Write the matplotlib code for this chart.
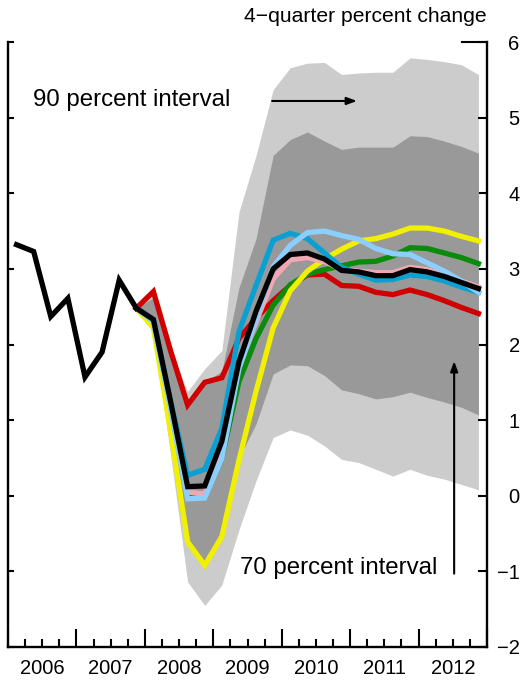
import matplotlib
matplotlib.use("Agg")
import matplotlib.pyplot as plt
import numpy as np

plt.rcParams['font.family'] = ['Liberation Sans', 'DejaVu Sans']

# ---------------- data ----------------
hist_quarters = ["2006Q1", "2006Q2", "2006Q3", "2006Q4",
                 "2007Q1", "2007Q2", "2007Q3", "2007Q4"]
hist_values = [3.32, 3.23, 2.37, 2.61, 1.57, 1.90, 2.85, 2.48]

proj_quarters = ["2007Q4",
                 "2008Q1", "2008Q2", "2008Q3", "2008Q4",
                 "2009Q1", "2009Q2", "2009Q3", "2009Q4",
                 "2010Q1", "2010Q2", "2010Q3", "2010Q4",
                 "2011Q1", "2011Q2", "2011Q3", "2011Q4",
                 "2012Q1", "2012Q2", "2012Q3", "2012Q4"]

band90_upper = [2.48, 2.72, 1.95, 1.38, 1.68, 1.92, 3.75, 4.50, 5.37,
                5.66, 5.72, 5.73, 5.57, 5.59, 5.60, 5.60, 5.79, 5.77, 5.74, 5.70, 5.57]
band90_lower = [2.48, 2.15, 0.55, -1.14, -1.45, -1.18, -0.45, 0.20, 0.77,
                0.87, 0.80, 0.66, 0.48, 0.44, 0.35, 0.26, 0.35, 0.27, 0.22, 0.15, 0.08]
band70_upper = [2.48, 2.62, 1.85, 1.25, 1.50, 1.65, 2.75, 3.40, 4.50,
                4.71, 4.81, 4.69, 4.58, 4.61, 4.61, 4.61, 4.76, 4.75, 4.69, 4.62, 4.53]
band70_lower = [2.48, 2.25, 0.80, -0.66, -0.97, -0.50, 0.50, 0.95, 1.61,
                1.73, 1.72, 1.59, 1.40, 1.35, 1.28, 1.31, 1.37, 1.30, 1.24, 1.17, 1.07]

red = [2.48, 2.70, 1.92, 1.20, 1.50, 1.56, 2.08, 2.35, 2.58,
       2.78, 2.92, 2.93, 2.78, 2.77, 2.69, 2.66, 2.72, 2.66, 2.58, 2.49, 2.41]
green = [2.48, 2.28, 1.15, 0.00, -0.02, 0.49, 1.51, 2.08, 2.52,
         2.79, 2.93, 2.99, 3.04, 3.09, 3.10, 3.17, 3.28, 3.27, 3.21, 3.15, 3.07]
yellow = [2.48, 2.22, 0.86, -0.61, -0.92, -0.54, 0.47, 1.38, 2.22,
          2.71, 2.97, 3.13, 3.26, 3.37, 3.40, 3.46, 3.54, 3.54, 3.50, 3.43, 3.37]
pink = [2.48, 2.31, 1.20, 0.05, 0.02, 0.60, 1.72, 2.30, 2.87,
        3.12, 3.15, 3.10, 2.99, 2.97, 2.95, 2.95, 3.02, 2.99, 2.92, 2.84, 2.76]
blue = [2.48, 2.33, 1.25, 0.27, 0.35, 0.89, 2.17, 2.78, 3.38,
        3.47, 3.40, 3.21, 3.02, 2.93, 2.85, 2.86, 2.92, 2.90, 2.84, 2.76, 2.69]
lightblue = [2.48, 2.30, 1.15, -0.04, -0.03, 0.49, 1.68, 2.34, 3.03,
             3.31, 3.48, 3.50, 3.44, 3.39, 3.27, 3.20, 3.19, 3.08, 2.97, 2.84, 2.69]
black = [2.48, 2.33, 1.25, 0.12, 0.13, 0.72, 1.77, 2.44, 3.00,
         3.19, 3.21, 3.13, 2.98, 2.96, 2.91, 2.91, 2.99, 2.96, 2.90, 2.82, 2.74]

year_labels = ["2006", "2007", "2008", "2009", "2010", "2011", "2012"]
y_ticks = [-2, -1, 0, 1, 2, 3, 4, 5, 6]


def qpos(q):
    """Quarter label -> position at mid-quarter on a year axis."""
    y, n = q.split("Q")
    return int(y) + (int(n) - 0.5) / 4.0


hx = np.array([qpos(q) for q in hist_quarters])
px = np.array([qpos(q) for q in proj_quarters])

# ---------------- figure ----------------
W, H = 522, 690
fig = plt.figure(figsize=(W / 100, H / 100), dpi=100)
ax = fig.add_axes([8 / W, (H - 647) / H, (487 - 8) / W, (647 - 42) / H])

ax.fill_between(px, band90_lower, band90_upper, color="#cccccc", lw=0, zorder=1)
ax.fill_between(px, band70_lower, band70_upper, color="#999999", lw=0, zorder=2)

lw = 3.8
ax.plot(px, red, color="#d00000", lw=lw, zorder=3, solid_joinstyle="miter")
ax.plot(px, green, color="#0a8c0a", lw=lw, zorder=4, solid_joinstyle="miter")
ax.plot(px, yellow, color="#f0f000", lw=lw, zorder=5, solid_joinstyle="miter")
ax.plot(px, pink, color="#f2a8b4", lw=lw, zorder=6, solid_joinstyle="miter")
ax.plot(px, blue, color="#0aa0d2", lw=lw, zorder=7, solid_joinstyle="miter")
ax.plot(px, lightblue, color="#8ccfff", lw=lw, zorder=8, solid_joinstyle="miter")
ax.plot(px, black, color="black", lw=lw, zorder=9, solid_joinstyle="miter")
ax.plot(hx, hist_values, color="black", lw=lw, zorder=9, solid_joinstyle="miter")

ax.set_xlim(2006, 2013)
ax.set_ylim(-2, 6)

# spines
for s in ["left", "right", "bottom"]:
    ax.spines[s].set_linewidth(1.7)
ax.spines["top"].set_visible(False)

# y ticks: labels on right (right-aligned), longer ticks on right, short on left
ax.set_yticks(y_ticks)
ax.set_yticks(y_ticks, minor=True)
ax.yaxis.remove_overlapping_locs = False
ax.tick_params(axis="y", which="major", left=False, right=True, labelleft=False,
               labelright=True, direction="in", length=6.5, width=1.5,
               pad=23.5, labelsize=14.5)
for lab in ax.get_yticklabels():
    lab.set_horizontalalignment("right")
ax.tick_params(axis="y", which="minor", left=True, right=False, direction="in",
               length=4, width=1.5)
ax.axhline(6, xmin=1 - 25 / 479, xmax=1, color="black", lw=1.5, clip_on=False,
           zorder=10)

# x ticks: year boundaries (major) and quarters (minor)
years = np.arange(2006, 2014)
ax.set_xticks(years)
ax.set_xticklabels([])
ax.set_xticks(np.arange(2006, 2013.01, 0.25), minor=True)
ax.tick_params(axis="x", which="major", direction="in", length=13, width=1.5,
               top=False)
ax.tick_params(axis="x", which="minor", direction="in", length=6, width=1.5,
               top=False)

trans = ax.get_xaxis_transform()
for i, lab in enumerate(year_labels):
    ax.text(2006 + i + 0.5, -21 / 605, lab, transform=trans, ha="center",
            va="center", fontsize=14.5)

fig.text(487 / W, 1 - 16 / H, "4\u2212quarter percent change", ha="right",
         va="center", fontsize=15.2)

# annotations
ax.text(2006.36, 5.23, "90 percent interval", ha="left", va="center",
        fontsize=17.3, zorder=11)
ax.annotate("", xy=(2011.1, 5.22), xytext=(2009.86, 5.22),
            arrowprops=dict(arrowstyle="-|>,head_length=0.6,head_width=0.22",
                            color="black", lw=1.5, shrinkA=0, shrinkB=0),
            zorder=11)
ax.text(2009.39, -0.96, "70 percent interval", ha="left", va="center",
        fontsize=17.3, zorder=11)
ax.annotate("", xy=(2012.52, 1.78), xytext=(2012.52, -1.03),
            arrowprops=dict(arrowstyle="-|>,head_length=0.6,head_width=0.22",
                            color="black", lw=1.5, shrinkA=0, shrinkB=0),
            zorder=11)

fig.savefig("out.png", dpi=100)
